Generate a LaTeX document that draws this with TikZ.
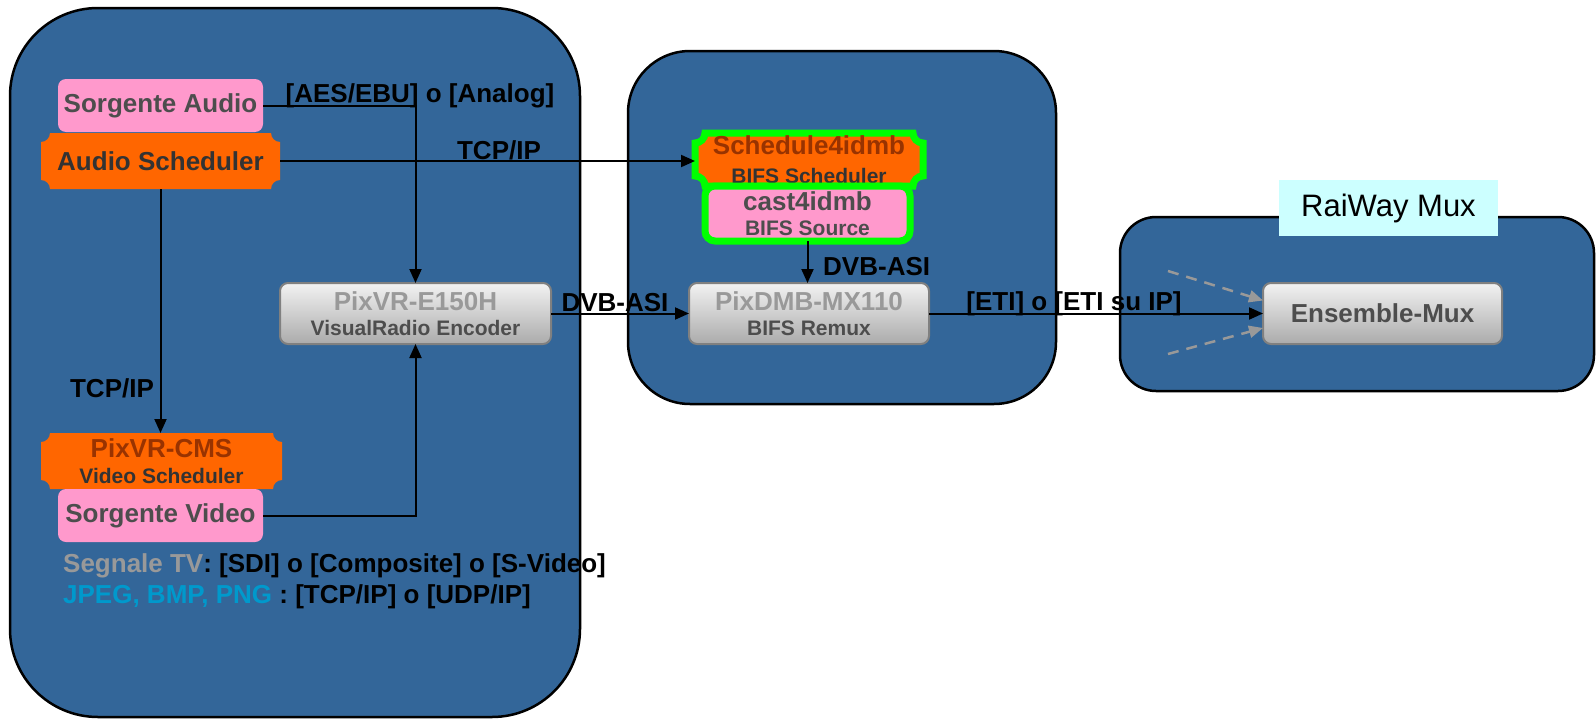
\documentclass[tikz,border=0pt]{standalone}
\usepackage{fontspec}
\setmainfont{Liberation Sans}
\usetikzlibrary{arrows.meta,calc}
\pgfdeclarelayer{bg}\pgfdeclarelayer{mid}\pgfsetlayers{bg,mid,main}
\definecolor{cont}{HTML}{336699}
\definecolor{pinkf}{HTML}{FF99CC}
\definecolor{orangef}{HTML}{FF6600}
\definecolor{greenb}{HTML}{00FF00}
\definecolor{txtdark}{HTML}{4D4D4D}
\definecolor{txtdarker}{HTML}{333333}
\definecolor{txtlight}{HTML}{999999}
\definecolor{txtbrown}{HTML}{993300}
\definecolor{cyanf}{HTML}{CCFFFF}
\definecolor{jpegblue}{HTML}{0099CC}
\definecolor{boxborder}{HTML}{808080}
\definecolor{gtop}{HTML}{F2F2F2}
\definecolor{gbot}{HTML}{ABABAB}
\newcommand\fsmain{\fontsize{26}{26}\selectfont\bfseries}
\newcommand\fssub{\fontsize{21}{25.5}\selectfont\bfseries}
\newcommand\plaquepath[2]{($(#1.north west)+(#2,0)$) -- ($(#1.north east)+(-#2,0)$) arc[start angle=180,end angle=270,radius=#2] -- ($(#1.south east)+(0,#2)$) arc[start angle=90,end angle=180,radius=#2] -- ($(#1.south west)+(#2,0)$) arc[start angle=0,end angle=90,radius=#2] -- ($(#1.north west)+(0,-#2)$) arc[start angle=270,end angle=360,radius=#2] -- cycle}
\tikzset{
  container/.style={fill=cont, draw=black, line width=2.5pt},
  pinkbox/.style={fill=pinkf, rounded corners=8pt, inner sep=0pt, outer sep=0pt, text=txtdark, font=\fsmain, align=center},
  graybox/.style={top color=gtop, bottom color=gbot, draw=boxborder, line width=2pt, rounded corners=8pt, inner sep=0pt, outer sep=0pt, align=center},
  plaquenode/.style={inner sep=0pt, outer sep=0pt, align=center},
  twoline/.style={font=\fssub},
  lbl/.style={font=\fsmain, text=black, inner sep=0pt},
  arr/.style={line width=2pt, -{Triangle[length=14pt,width=12pt]}},
  dasharr/.style={draw=txtlight, line width=2.5pt, dash pattern=on 11pt off 8pt, -{Triangle[length=14pt,width=12pt]}}
}
\begin{document}
\begin{tikzpicture}[x=1pt,y=1pt]
\useasboundingbox (0,0) rectangle (1596,-720);
\begin{pgfonlayer}{bg}
\fill[white] (0,0) rectangle (1596,-720);
\draw[container, rounded corners=88pt] (10,-8) rectangle (580,-717);
\draw[container, rounded corners=62pt] (628,-51) rectangle (1056,-404);
\draw[container, rounded corners=36pt] (1120,-217) rectangle (1594,-391);
\end{pgfonlayer}

% left panel
\node[pinkbox, minimum width=205pt, minimum height=53pt] (SA) at (160.5,-105.5) {Sorgente Audio};
\node[plaquenode, minimum width=239pt, minimum height=56pt, font=\fsmain, text=txtdarker] (AS) at (160.5,-161) {Audio Scheduler};
\node[graybox, twoline, minimum width=271pt, minimum height=61pt] (ENC) at (415.5,-313.5) {\fsmain\color{txtlight}PixVR-E150H\\\color{txtdark}VisualRadio Encoder};
\node[plaquenode, twoline, minimum width=241pt, minimum height=56pt] (CMS) at (161.5,-461) {\fsmain\color{txtbrown}PixVR-CMS\\\color{txtdarker}Video Scheduler};
\node[pinkbox, minimum width=205pt, minimum height=53pt] (SV) at (160.5,-515.5) {Sorgente Video};
\node[lbl, anchor=west] (seg) at (63,-566) {\color{txtlight}Segnale TV\color{black}: [SDI] o [Composite] o [S-Video]};
\node[lbl, anchor=west] (jpeg) at (63,-597) {\color{jpegblue}JPEG, BMP, PNG \color{black}: [TCP/IP] o [UDP/IP]};

% middle panel
\node[plaquenode, twoline, minimum width=228pt, minimum height=53pt] (S4) at (809,-159.5) {\fsmain\color{txtbrown}Schedule4idmb\\[3pt]\color{txtdarker}BIFS Scheduler};
\node[pinkbox, twoline, draw=greenb, line width=7pt, rounded corners=10pt, minimum width=205pt, minimum height=55pt] (C4) at (807.5,-213.5) {\fsmain cast4idmb\\BIFS Source};
\node[graybox, twoline, minimum width=240pt, minimum height=61pt] (DMB) at (809,-313.5) {\fsmain\color{txtlight}PixDMB-MX110\\\color{txtdark}BIFS Remux};

% right panel
\node[fill=cyanf, minimum width=219pt, minimum height=56pt, inner sep=0pt, font=\fontsize{31}{31}\selectfont] (RW) at (1388.5,-208) {RaiWay Mux};
\node[graybox, minimum width=239pt, minimum height=61pt, font=\fsmain, text=txtdark] (EM) at (1382.5,-313.5) {Ensemble-Mux};

% plaque backgrounds
\begin{pgfonlayer}{mid}
\path[fill=orangef] \plaquepath{AS}{9pt};
\path[fill=orangef] \plaquepath{CMS}{9pt};
\path[fill=orangef, draw=greenb, line width=7pt] \plaquepath{S4}{10pt};
\end{pgfonlayer}

% connectors
\draw[arr] (SA.east) -| (ENC.north);
\draw[arr] (SV.east) -| (ENC.south);
\draw[arr] (AS.east) -- (AS.east -| S4.west);
\draw[arr] (AS.south) -- (AS.south |- CMS.north);
\draw[arr] (ENC.east) -- (DMB.west);
\draw[arr] (C4.south) -- (C4.south |- DMB.north);
\draw[arr] (DMB.east) -- (EM.west);
\coordinate (d1) at (1168,-271);
\coordinate (d2) at (1168,-354);
\draw[dasharr] (d1) -- ([yshift=13pt]EM.west);
\draw[dasharr] (d2) -- ([yshift=-14.5pt]EM.west);

% labels
\node[lbl] (l1) at (420,-96) {[AES/EBU] o [Analog]};
\node[lbl] (l2) at (499,-150) {TCP/IP};
\node[lbl] (l3) at (112,-388) {TCP/IP};
\node[lbl] (l4) at (615,-303) {DVB-ASI};
\node[lbl, anchor=west] (l5) at (823,-267) {DVB-ASI};
\node[lbl] (l6) at (1074,-304) {[ETI] o [ETI su IP]};
\end{tikzpicture}
\end{document}
